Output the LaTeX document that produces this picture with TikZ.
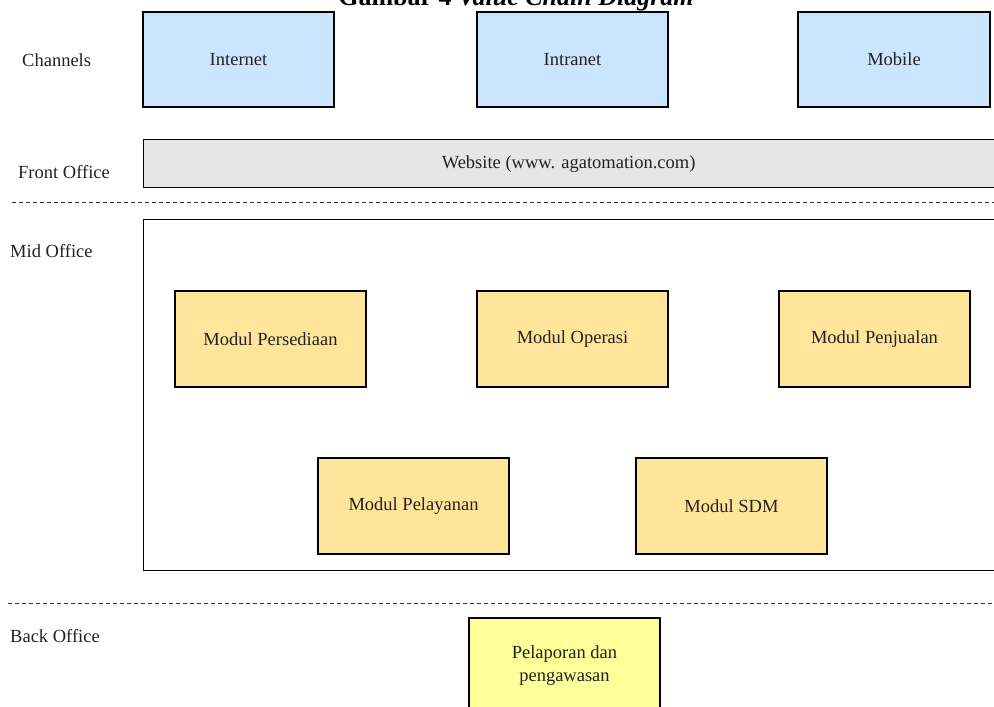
\documentclass[tikz,border=0pt]{standalone}
\usepackage{fontspec}
\setmainfont{Liberation Serif}
\definecolor{chblue}{HTML}{CCE5FF}
\definecolor{modor}{HTML}{FFE599}
\definecolor{webgray}{HTML}{E6E6E6}
\definecolor{repyel}{HTML}{FFFF99}
\definecolor{txt}{HTML}{222222}
\begin{document}
\begin{tikzpicture}[x=1pt,y=-1pt,
  basefont/.style={font=\fontsize{18.5}{23}\selectfont, text=txt},
  boxbase/.style={basefont, draw=black, line width=1.2pt, align=center, inner sep=0pt},
  chanbox/.style={boxbase, fill=chblue, minimum width=191pt, minimum height=95pt},
  modbox/.style={boxbase, fill=modor, minimum width=191pt, minimum height=96pt},
  repbox/.style={boxbase, fill=repyel, minimum width=191pt, minimum height=96pt},
  lanelabel/.style={basefont, anchor=west, inner sep=0pt},
  sepline/.style={draw=black!80, line width=1pt, dash pattern=on 4pt off 3pt}
]
\useasboundingbox (0,0) rectangle (994,707);
% title (cut at top)
\node[font=\fontsize{26}{30}\selectfont\bfseries, anchor=base, inner sep=0pt] (title) at (516,5) {Gambar 4 \textit{Value Chain Diagram}};
% lane labels
\node[lanelabel] (lchan) at (22,60) {Channels};
\node[lanelabel] (lfront) at (18,172) {Front Office};
\node[lanelabel] (lmid) at (10,251) {Mid Office};
\node[lanelabel] (lback) at (10,636) {Back Office};
% channels
\node[chanbox] (internet) at (238.5,59.5) {Internet};
\node[chanbox] (intranet) at (572.5,59.5) {Intranet};
\node[chanbox, minimum width=192pt] (mobile) at (894,59.5) {Mobile};
% front office
\node[boxbase, fill=webgray, minimum width=860pt, minimum height=48pt, anchor=north west] (website) at (143,139) {\hspace*{-10pt}Website (www. agatomation.com)};
% separators
\coordinate (s1a) at (12,202);
\coordinate (s1b) at (994,202);
\coordinate (s2a) at (8,603);
\coordinate (s2b) at (994,603);
\draw[sepline] (s1a) -- (s1b);
\draw[sepline] (s2a) -- (s2b);
% mid office container
\node[boxbase, fill=white, minimum width=860pt, minimum height=351pt, anchor=north west] (midbox) at (143,219) {};
\node[modbox] (persediaan) at (270.5,339) {Modul Persediaan};
\node[modbox] (operasi) at (572.5,339) {Modul Operasi};
\node[modbox] (penjualan) at (874.5,339) {Modul Penjualan};
\node[modbox] (pelayanan) at (413.5,506) {Modul Pelayanan};
\node[modbox] (sdm) at (731.5,506) {Modul SDM};
% back office
\node[repbox] (pelaporan) at (564.5,666) {Pelaporan dan\\pengawasan};
\end{tikzpicture}
\end{document}
